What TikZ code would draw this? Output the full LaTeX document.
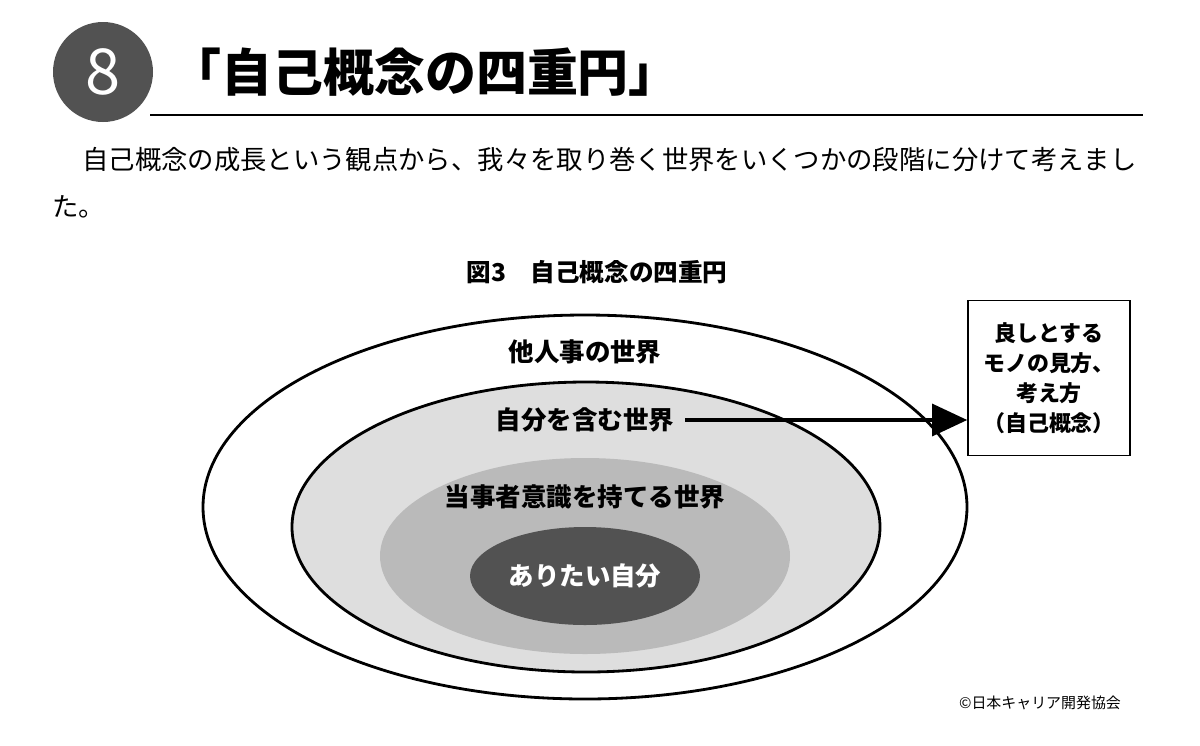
\documentclass[tikz,border=0pt]{standalone}
\usepackage{fontspec}
\setmainfont{Noto Sans CJK JP}
\usetikzlibrary{arrows.meta}

\tikzset{
	ring/.style={draw=black, line width=1.6pt},
	lbl/.style={font=\bfseries\fontsize{14.5}{17}\selectfont},
}

\begin{document}
\begin{tikzpicture}[x=0.02cm, y=-0.02cm]
	\useasboundingbox (0,0) rectangle (1200,745);
	% heading
	\fill[color=black!68] (103,72) circle(50);
	\node[text=white, font=\fontsize{36}{40}\selectfont] (num) at (103,72) {8};
	\node[anchor=west, font=\bfseries\fontsize{29}{34}\selectfont, inner sep=0pt] (title) at (170,72) {「自己概念の四重円」};
	\draw[line width=0.6pt] (150,115) -- (1143,115);
	\node[anchor=west, inner sep=0pt, font=\fontsize{15}{18}\selectfont] (txt1) at (82,160) {自己概念の成長という観点から、我々を取り巻く世界をいくつかの段階に分けて考えまし};
	\node[anchor=west, inner sep=0pt, font=\fontsize{15}{18}\selectfont] (txt2) at (52,207) {た。};
	\node[font=\bfseries\fontsize{14}{17}\selectfont] (cap) at (597,272) {図3　自己概念の四重円};

	% circles
	\draw[ring, fill=white] (585,507) ellipse(382 and 192);
	\draw[ring, fill=black!13] (586,527) ellipse(294 and 145);
	\fill[color=black!27] (585,556) ellipse(205 and 98);
	\fill[color=black!68] (585,576) ellipse(115 and 49);

	\node[lbl] (other) at (585,352) {他人事の世界};
	\node[lbl] (self) at (585,420) {自分を含む世界};
	\node[lbl] (party) at (585,497) {当事者意識を持てる世界};
	\node[lbl, text=white] (ideal) at (585,576) {ありたい自分};

	% box
	\node[draw, line width=0.8pt, minimum width=162*0.02cm, minimum height=155*0.02cm, align=center,
		font=\bfseries\fontsize{12.5}{17}\selectfont] (box) at (1049,378)
		{良しとする\\モノの見方、\\考え方\\（自己概念）};
	\draw[line width=2.5pt, -{Triangle[length=20pt, width=18pt]}] (self.east) ++(5,0) coordinate (a) (a) -- (box.west |- self);

	\node[font=\fontsize{8.5}{10}\selectfont] (copy) at (1040,703) {©日本キャリア開発協会};
\end{tikzpicture}
\end{document}
